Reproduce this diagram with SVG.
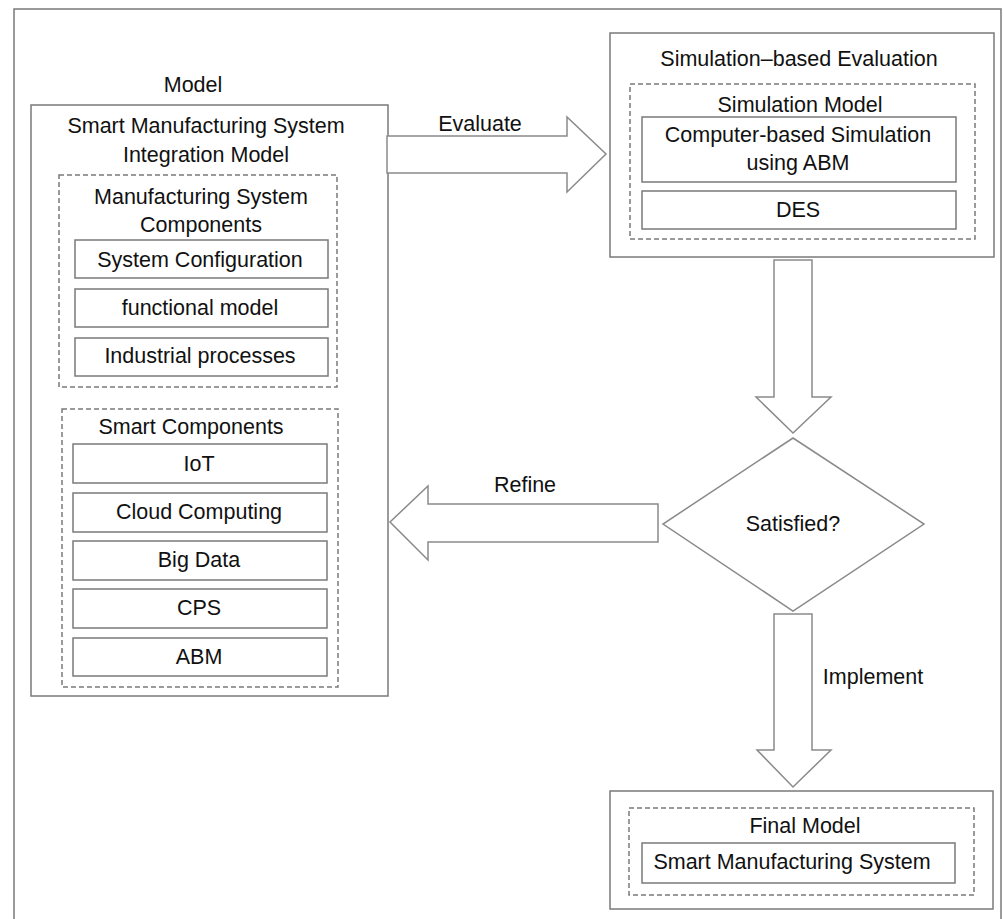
<svg xmlns="http://www.w3.org/2000/svg" width="1003" height="919" viewBox="0 0 1003 919">
<style>
.box{fill:#fff;stroke:#7a7a7a;stroke-width:1.5}
.dash{fill:none;stroke:#7a7a7a;stroke-width:1.5;stroke-dasharray:5,3}
.arrow{fill:#fff;stroke:#8a8a8a;stroke-width:1.5;stroke-linejoin:miter}
text{font-family:"Liberation Sans",Arial,sans-serif;font-size:21.5px;fill:#111;text-anchor:middle}
</style>
<rect x="0" y="0" width="1003" height="919" fill="#fff"/>
<rect id="frame" x="14" y="9" width="987" height="930" fill="none" stroke="#7a7a7a" stroke-width="1.5"/>

<g id="model">
<text x="193" y="92">Model</text>
<rect class="box" x="31" y="105" width="357" height="591"/>
<text x="206" y="133">Smart Manufacturing System</text>
<text x="206" y="162">Integration Model</text>
</g>
<g id="msc">
<rect class="dash" x="59" y="175" width="278" height="212"/>
<text x="201" y="204">Manufacturing System</text>
<text x="201" y="232">Components</text>
</g>
<g id="sysconf"><rect class="box" x="75" y="240" width="253" height="38"/><text x="200" y="267">System Configuration</text></g>
<g id="funcmodel"><rect class="box" x="75" y="289" width="253" height="38"/><text x="200" y="315">functional model</text></g>
<g id="indproc"><rect class="box" x="75" y="338" width="253" height="38"/><text x="200" y="363">Industrial processes</text></g>
<g id="smartcomp">
<rect class="dash" x="62" y="409" width="276" height="278"/>
<text x="191" y="434">Smart Components</text>
</g>
<g id="iot"><rect class="box" x="73" y="444" width="254" height="39"/><text x="199" y="471">IoT</text></g>
<g id="cloud"><rect class="box" x="73" y="493" width="254" height="39"/><text x="199" y="519">Cloud Computing</text></g>
<g id="bigdata"><rect class="box" x="73" y="541" width="254" height="39"/><text x="199" y="567">Big Data</text></g>
<g id="cps"><rect class="box" x="73" y="589" width="254" height="39"/><text x="199" y="615">CPS</text></g>
<g id="abm"><rect class="box" x="73" y="638" width="254" height="38"/><text x="199" y="664">ABM</text></g>

<g id="simeval">
<rect class="box" x="610" y="33" width="384" height="224"/>
<text x="799" y="66">Simulation–based Evaluation</text>
<rect class="dash" x="630" y="84" width="345" height="155"/>
<text x="800" y="112">Simulation Model</text>
</g>
<g id="compsim"><rect class="box" x="642" y="117" width="314" height="65"/><text x="798" y="142">Computer-based Simulation</text><text x="798" y="170">using ABM</text></g>
<g id="des"><rect class="box" x="642" y="191" width="314" height="38"/><text x="798" y="217">DES</text></g>

<g id="satisfied">
<polygon class="arrow" points="793,438 924,524 793,611 663,524"/>
<text x="793" y="531">Satisfied?</text>
</g>

<g id="final">
<rect class="box" x="610" y="791" width="383" height="118"/>
<rect class="dash" x="629" y="808" width="345" height="87"/>
<text x="805" y="833">Final Model</text>
<rect class="box" x="642" y="843" width="313" height="40"/>
<text x="792" y="869">Smart Manufacturing System</text>
</g>

<g id="connectors">
<polygon class="arrow" points="387,136 567,136 567,117 606,154 567,192 567,173 387,173"/>
<text x="480" y="131">Evaluate</text>
<polygon class="arrow" points="774,260 812,260 812,397 831,397 793,433 756,397 774,397"/>
<polygon class="arrow" points="658,504 428,504 428,486 390,522 428,560 428,542 658,542"/>
<text x="525" y="492">Refine</text>
<polygon class="arrow" points="774,614 812,614 812,750 831,750 793,787 757,750 774,750"/>
<text x="873" y="684">Implement</text>
</g>
</svg>
